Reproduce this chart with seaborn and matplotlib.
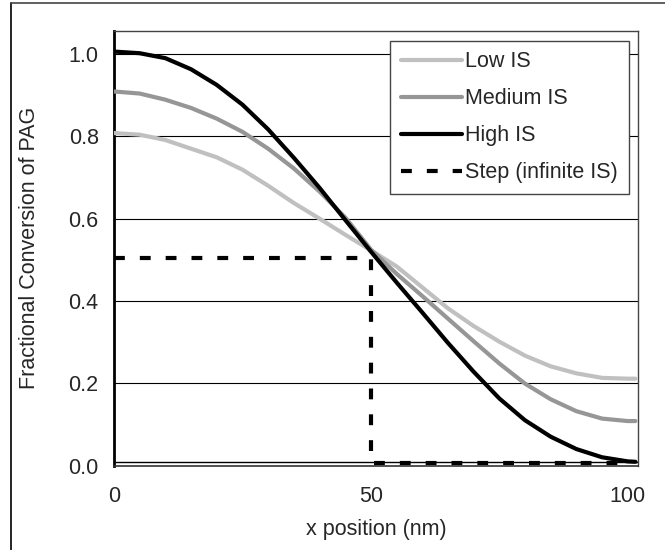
import numpy as np
import pandas as pd
import matplotlib
matplotlib.use("Agg")
import matplotlib.pyplot as plt
import seaborn as sns
from matplotlib.lines import Line2D

# ---- data ----
x_nm = [0, 5, 10, 15, 20, 25, 30, 35, 40, 45, 50, 55, 60, 65, 70, 75, 80, 85, 90, 95, 100, 101.5]
low_is = [0.808, 0.804, 0.791, 0.770, 0.749, 0.719, 0.680, 0.638, 0.600, 0.561, 0.523,
          0.484, 0.433, 0.382, 0.339, 0.301, 0.267, 0.241, 0.224, 0.213, 0.211, 0.211]
medium_is = [0.909, 0.904, 0.889, 0.869, 0.843, 0.811, 0.770, 0.722, 0.666, 0.603, 0.525,
             0.466, 0.412, 0.357, 0.302, 0.248, 0.199, 0.161, 0.132, 0.114, 0.108, 0.108]
high_is = [1.006, 1.002, 0.990, 0.963, 0.925, 0.877, 0.817, 0.748, 0.675, 0.597, 0.520,
           0.445, 0.372, 0.298, 0.228, 0.163, 0.110, 0.070, 0.040, 0.020, 0.010, 0.009]
step_x = [0, 50, 50, 100]
step_y = [0.505, 0.505, 0.007, 0.007]

series_names = ["Low IS", "Medium IS", "High IS"]
series_colors = ["#c0c0c0", "#969696", "#000000"]
y_ticks = [0.0, 0.2, 0.4, 0.6, 0.8, 1.0]
x_ticks = [0, 50, 100]

df = pd.DataFrame({
    "x": x_nm * 3,
    "y": low_is + medium_is + high_is,
    "series": sum([[n] * len(x_nm) for n in series_names], []),
})

sns.set_style("white")
plt.rcParams["font.family"] = ["Liberation Sans", "DejaVu Sans"]
FS = 15.5

fig = plt.figure(figsize=(6.65, 5.5), dpi=100)
ax = fig.add_axes([114 / 665, 84.5 / 550, 524 / 665, 434.5 / 550])

# gridlines
for t in y_ticks[1:]:
    ax.axhline(t, color="#000000", lw=0.8, zorder=1)
ax.axhline(0.008, color="#000000", lw=1.0, zorder=1)

sns.lineplot(data=df, x="x", y="y", hue="series", hue_order=series_names,
             palette=series_colors, linewidth=3, ax=ax, legend=False, zorder=3,
             estimator=None, sort=False)
sns.lineplot(x=step_x, y=step_y, color="black", linewidth=3, ax=ax,
             dashes=False, zorder=4, estimator=None, sort=False)
ax.lines[-1].set_dashes((2.6, 3.6))

ax.set_xlim(0, 102)
ax.set_ylim(0, 1.056)
ax.set_xticks(x_ticks)
ax.set_yticks(y_ticks)
ax.set_yticklabels([f"{t:.1f}" for t in y_ticks])
ax.tick_params(axis="both", labelsize=FS, color="#555555", direction="out")
ax.tick_params(axis="y", length=6, pad=5, width=1)
ax.tick_params(axis="x", length=4, pad=11, width=1)

for side in ["top", "right"]:
    ax.spines[side].set_color("#444444")
    ax.spines[side].set_linewidth(1.0)
ax.spines["left"].set_color("black")
ax.spines["left"].set_linewidth(2.0)
ax.spines["bottom"].set_color("#333333")
ax.spines["bottom"].set_linewidth(1.2)

ax.set_xlabel("x position (nm)", fontsize=FS)
ax.set_ylabel("Fractional Conversion of PAG", fontsize=FS)
ax.xaxis.set_label_coords(0.5, -(529 - 465.5) / 434.5)
ax.xaxis.label.set_va("center")
ax.yaxis.set_label_coords(-(114 - 30) / 524, 0.5)
ax.yaxis.label.set_va("center")

handles = [Line2D([], [], color=c, lw=3) for c in series_colors]
handles.append(Line2D([], [], color="black", lw=3, dashes=(2.6, 3.6)))
leg = ax.legend(handles, series_names + ["Step (infinite IS)"],
                loc="upper right", bbox_to_anchor=((629 - 114) / 524, (465.5 - 40.5) / 434.5),
                fontsize=FS, frameon=True, fancybox=False, framealpha=1,
                edgecolor="#444444", handlelength=2.85, handletextpad=0.15,
                labelspacing=0.74, borderpad=0.5, borderaxespad=0)
leg.get_frame().set_linewidth(1.0)

# outer frame of the figure
fig.add_artist(Line2D([11 / 665, 11 / 665], [0, 1 - 3 / 550], transform=fig.transFigure,
                      color="black", lw=1.2))
fig.add_artist(Line2D([11 / 665, 1], [1 - 3 / 550, 1 - 3 / 550], transform=fig.transFigure,
                      color="#444444", lw=1.2))

fig.savefig("out.png", dpi=100)
